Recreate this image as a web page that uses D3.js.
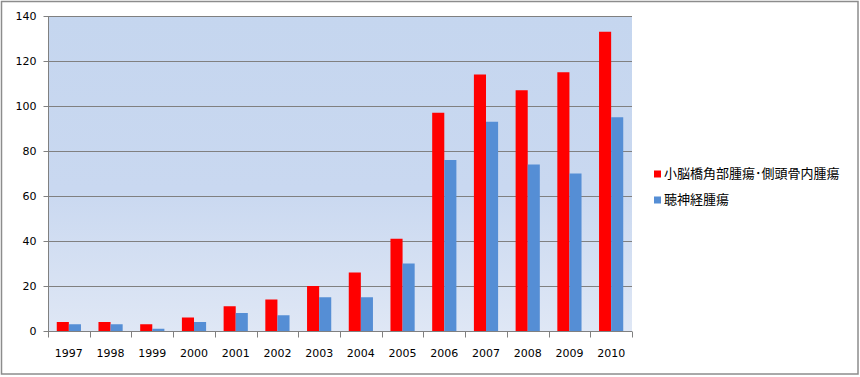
<!DOCTYPE html>
<html><head><meta charset="utf-8">
<script src="https://cdn.jsdelivr.net/npm/d3@7"></script>
<style>body{margin:0;background:#fff}svg{display:block}</style>
</head><body>
<script>
const years = ["1997","1998","1999","2000","2001","2002","2003","2004","2005","2006","2007","2008","2009","2010"];
const seriesNames = ["小脳橋角部腫瘍･側頭骨内腫瘍", "聴神経腫瘍"];
const redValues = [4,4,3,6,11,14,20,26,41,97,114,107,115,133];
const blueValues = [3,3,1,4,8,7,15,15,30,76,93,74,70,95];
const yTicks = [0,20,40,60,80,100,120,140];
const colors = ["#ff0000", "#558ed5"];

const W = 860, H = 377;
const m = {left: 48, right: 632, top: 16, bottom: 331};
const svg = d3.select("body").append("svg").attr("width", W).attr("height", H);
const defs = svg.append("defs");
const g = defs.append("linearGradient").attr("id","bg").attr("x1",0).attr("y1",0).attr("x2",0).attr("y2",1);
g.append("stop").attr("offset","0%").attr("stop-color","#c5d6ef");
g.append("stop").attr("offset","55%").attr("stop-color","#c9d8f0");
g.append("stop").attr("offset","100%").attr("stop-color","#dfe7f5");

svg.append("rect").attr("x",1.5).attr("y",1.5).attr("width",856.5).attr("height",372.5)
  .attr("fill","#fff").attr("stroke","#8c8c8c").attr("stroke-width",1.5);

const x = d3.scaleBand().domain(years).range([m.left, m.right]).paddingInner(0.42).paddingOuter(0.21);
const y = d3.scaleLinear().domain([0,140]).range([m.bottom, m.top]);

svg.append("rect").attr("x",m.left).attr("y",m.top).attr("width",m.right-m.left).attr("height",m.bottom-m.top).attr("fill","url(#bg)");

// gridlines
svg.append("g").selectAll("line").data(yTicks.filter(d=>d>0)).join("line")
  .attr("x1",m.left).attr("x2",m.right).attr("y1",d=>Math.round(y(d))+0.5).attr("y2",d=>Math.round(y(d))+0.5)
  .attr("stroke","#808080").attr("stroke-width",1);

const xs = d3.scaleBand().domain([0,1]).range([0, x.bandwidth()]);
const data = [redValues, blueValues];
data.forEach((vals, si) => {
  svg.append("g").selectAll("rect").data(vals).join("rect")
    .attr("x", (d,i)=> x(years[i]) + xs(si))
    .attr("width", xs.bandwidth())
    .attr("y", d=> y(d))
    .attr("height", d=> m.bottom - y(d))
    .attr("fill", colors[si]);
});

// y axis
const yAxis = d3.axisLeft(y).tickValues(yTicks).tickSize(5).tickPadding(7);
const ya = svg.append("g").attr("transform",`translate(${m.left+0.5},0)`).call(yAxis);
ya.selectAll("text").attr("font-family","DejaVu Sans").attr("font-size","11px").attr("fill","#000");
ya.selectAll("line,path").attr("stroke","#808080");
ya.select("path").attr("d",`M0,${m.top}V${m.bottom+0.5}`);

// x axis
const xa = svg.append("g").attr("transform",`translate(0,${m.bottom+0.5})`);
xa.append("line").attr("x1",m.left).attr("x2",m.right).attr("stroke","#808080");
const step = (m.right-m.left)/years.length;
xa.selectAll("line.t").data(d3.range(years.length+1)).join("line").attr("class","t")
  .attr("x1",i=>Math.round(m.left+i*step)+0.5).attr("x2",i=>Math.round(m.left+i*step)+0.5)
  .attr("y1",0).attr("y2",6).attr("stroke","#808080");
xa.selectAll("text").data(years).join("text")
  .attr("x",d=>x(d)+x.bandwidth()/2).attr("y",22)
  .attr("text-anchor","middle").attr("dominant-baseline","middle")
  .attr("font-family","DejaVu Sans").attr("font-size","11px").attr("fill","#000").text(d=>d);

// legend
const lg = svg.append("g");
seriesNames.forEach((n,i)=>{
  const cy = 174 + i*26;
  lg.append("rect").attr("x",654).attr("y",cy-3.5).attr("width",7).attr("height",7).attr("fill",colors[i]);
  lg.append("text").attr("x",664).attr("y",cy).attr("dominant-baseline","middle")
    .attr("font-family","'Noto Sans CJK JP'").attr("font-size","13px").attr("fill","#000").text(n);
});
</script>
</body></html>
